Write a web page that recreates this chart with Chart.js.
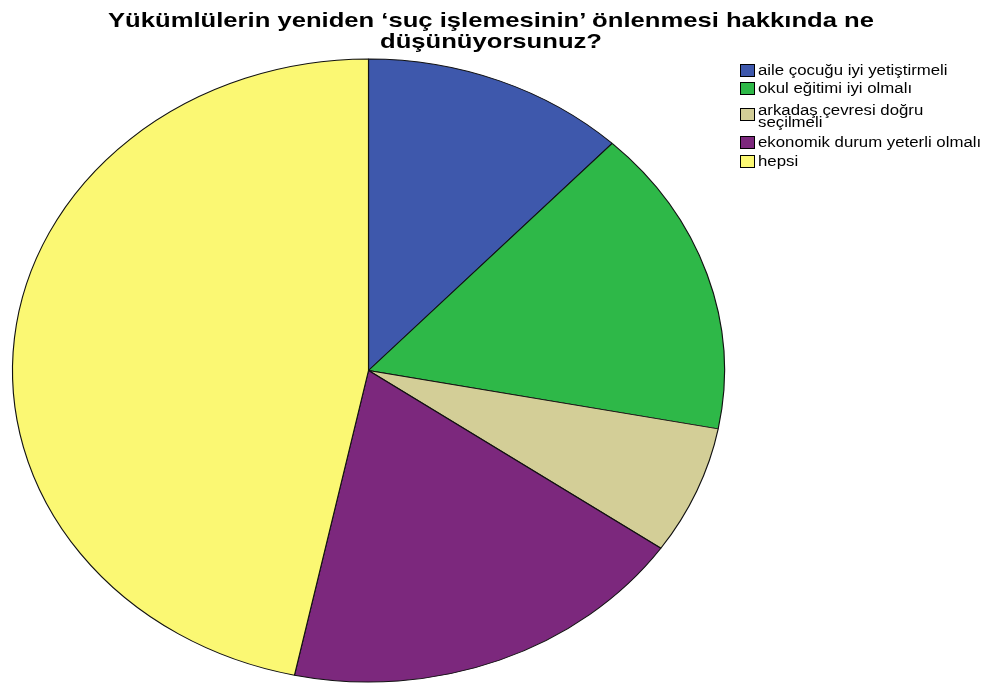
<!DOCTYPE html>
<html>
<head>
<meta charset="utf-8">
<script src="https://cdn.jsdelivr.net/npm/chart.js@4/dist/chart.umd.min.js"></script>
<style>
  body { margin: 0; background: #fff; }
  #wrap { position: relative; width: 982px; height: 684px; font-family: "Liberation Sans", Arial, sans-serif; }
  #pie { position: absolute; left: 0; top: 0; }
  #title { position: absolute; left: 0; top: 9px; width: 982px; text-align: center;
           font-weight: bold; font-size: 21px; line-height: 21px; color: #000;
           transform: scaleX(1.22); transform-origin: 491px 0; }
  #legend { position: absolute; left: 740px; top: 0; font-size: 14px; color: #000; }
  .row { position: absolute; left: 0; padding-left: 18px; line-height: 13px; white-space: nowrap; }
  .row.two { line-height: 12px; }
  .txt { display: inline-block; transform: scaleX(1.2); transform-origin: 0 0; }
  .box { position: absolute; left: 0; top: 0; width: 15px; height: 13px; border: 1px solid #000; box-sizing: border-box; }
  .two .box { top: 4px; }
</style>
</head>
<body>
<div id="wrap">
  <canvas id="pie" width="982" height="684"></canvas>
  <div id="title">Yükümlülerin yeniden ‘suç işlemesinin’ önlenmesi hakkında ne<br>düşünüyorsunuz?</div>
  <div id="legend"></div>
</div>
<script>
// answers, counts
const labels = ["aile çocuğu iyi yetiştirmeli", "okul eğitimi iyi olmalı", "arkadaş çevresi doğru seçilmeli", "ekonomik durum yeterli olmalı", "hepsi"];
const legendLines = [["aile çocuğu iyi yetiştirmeli"], ["okul eğitimi iyi olmalı"], ["arkadaş çevresi doğru", "seçilmeli"], ["ekonomik durum yeterli olmalı"], ["hepsi"]];
const counts = [18, 24, 10, 28, 70];
const colors = ["#3e58ac", "#2eb848", "#d3ce97", "#7c287d", "#fbf873"];

// pie in the picture is an ellipse, so stretch it sideways
const X_STRETCH = 356 / 311.5;
// legend row tops (px)
const ROW_TOP = [63.5, 81.5, 104, 135.5, 154.5];

const ellipse = {
  id: "ellipse",
  beforeDatasetsDraw(chart) {
    const arc = chart.getDatasetMeta(0).data[0];
    const ctx = chart.ctx;
    ctx.save();
    ctx.translate(arc.x, arc.y);
    ctx.scale(X_STRETCH, 1);
    ctx.translate(-arc.x, -arc.y);
  },
  afterDatasetsDraw(chart) {
    chart.ctx.restore();
  }
};

new Chart(document.getElementById("pie").getContext("2d"), {
  type: "pie",
  data: {
    labels,
    datasets: [{
      data: counts,
      backgroundColor: colors,
      borderColor: "#111",
      borderWidth: 1,
    }],
  },
  options: {
    responsive: false,
    animation: false,
    layout: { padding: { left: 56.5, top: 58.5, right: 301.5, bottom: 1.5 } },
    plugins: {
      legend: { display: false },
      tooltip: { enabled: false },
    },
  },
  plugins: [ellipse],
});

// legend on the right
const legend = document.getElementById("legend");
legendLines.forEach((lines, i) => {
  const row = document.createElement("div");
  row.className = lines.length > 1 ? "row two" : "row";
  row.style.top = ROW_TOP[i] + "px";
  row.innerHTML = '<span class="box" style="background:' + colors[i] + '"></span>' +
    '<span class="txt">' + lines.join("<br>") + '</span>';
  legend.appendChild(row);
});
</script>
</body>
</html>
